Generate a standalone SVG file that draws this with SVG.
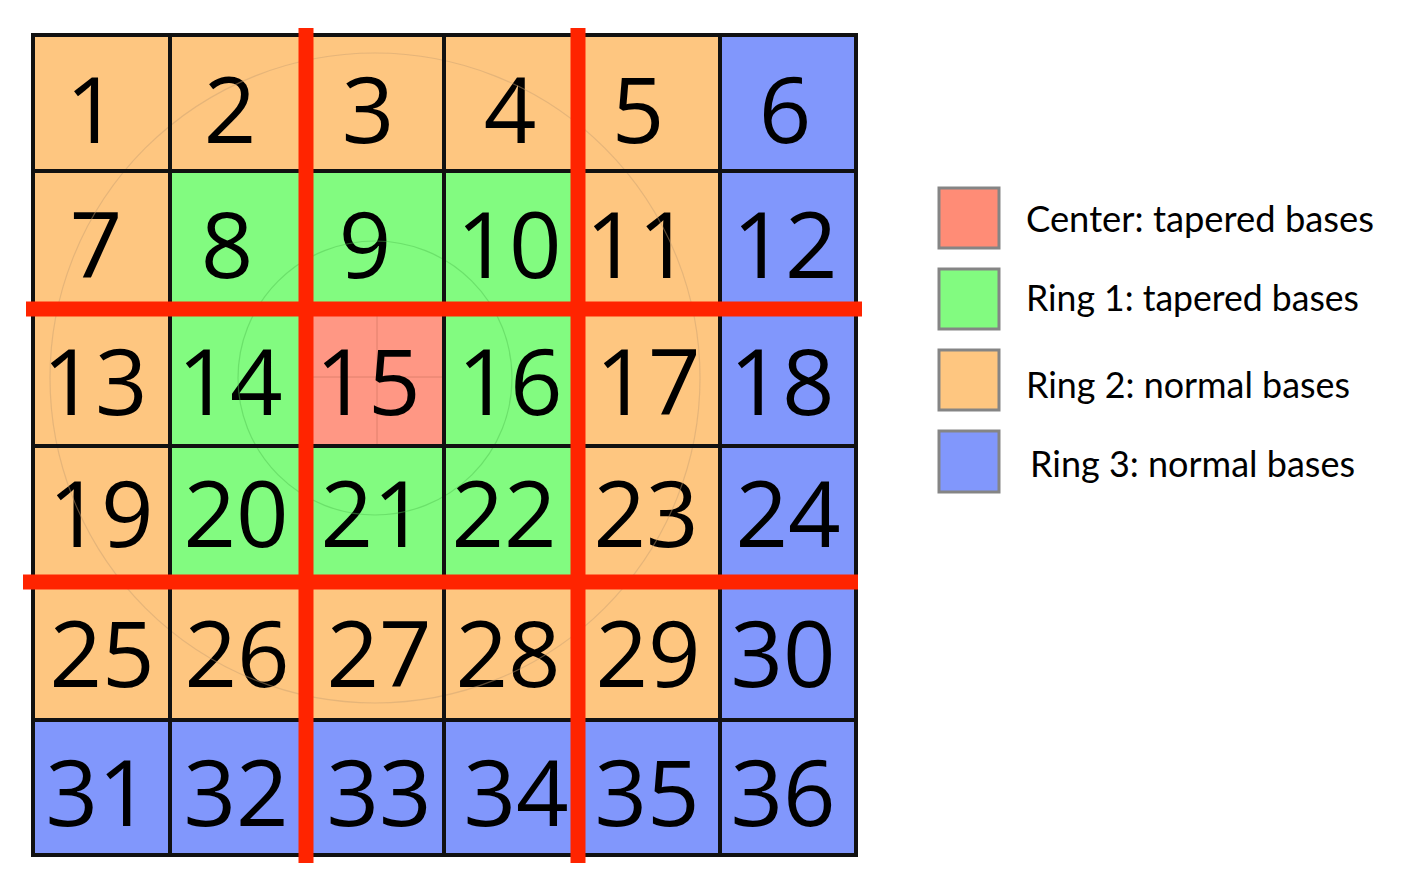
<svg xmlns="http://www.w3.org/2000/svg" width="1428" height="888" viewBox="0 0 1428 888">
<style>
.c rect{stroke:#8a8a8a;stroke-width:2}
.o{fill:#FEC680}
.g{fill:#82FB80}
.b{fill:#8197FC}
.r{fill:#FF9784}
.n{font-family:"Open Sans","Noto Sans",sans-serif;font-size:92px;fill:#000;text-anchor:middle}
.grid line{stroke:#111;stroke-width:4}
.red line{stroke:#FF2400;stroke-width:15}
.sw{stroke:#858585;stroke-width:3}
.lt{font-family:Lato,"Open Sans",sans-serif;font-size:36px;fill:#000}
</style>
<rect width="1428" height="888" fill="#fff"/>
<g id="cells" class="c">
<g id="cell1"><rect class="o" x="33" y="35" width="137" height="136"/><text class="n" x="92" y="143">1</text></g>
<g id="cell2"><rect class="o" x="170" y="35" width="136" height="136"/><text class="n" x="230" y="143">2</text></g>
<g id="cell3"><rect class="o" x="306" y="35" width="138" height="136"/><text class="n" x="368" y="143">3</text></g>
<g id="cell4"><rect class="o" x="444" y="35" width="134" height="136"/><text class="n" x="510" y="143">4</text></g>
<g id="cell5"><rect class="o" x="578" y="35" width="142" height="136"/><text class="n" x="638" y="143">5</text></g>
<g id="cell6"><rect class="b" x="720" y="35" width="136" height="136"/><text class="n" x="785" y="143">6</text></g>
<g id="cell7"><rect class="o" x="33" y="171" width="137" height="138"/><text class="n" x="96" y="278">7</text></g>
<g id="cell8"><rect class="g" x="170" y="171" width="136" height="138"/><text class="n" x="227" y="278">8</text></g>
<g id="cell9"><rect class="g" x="306" y="171" width="138" height="138"/><text class="n" x="365" y="278">9</text></g>
<g id="cell10"><rect class="g" x="444" y="171" width="134" height="138"/><text class="n" x="509" y="278">10</text></g>
<g id="cell11"><rect class="o" x="578" y="171" width="142" height="138"/><text class="n" x="638" y="278">11</text></g>
<g id="cell12"><rect class="b" x="720" y="171" width="136" height="138"/><text class="n" x="785" y="278">12</text></g>
<g id="cell13"><rect class="o" x="33" y="309" width="137" height="137"/><text class="n" x="95" y="415">13</text></g>
<g id="cell14"><rect class="g" x="170" y="309" width="136" height="137"/><text class="n" x="230" y="415">14</text></g>
<g id="cell15"><rect class="r" x="306" y="309" width="138" height="137"/><line x1="306" y1="377" x2="444" y2="377" stroke="#E0806C" stroke-width="1"/><line x1="377" y1="309" x2="377" y2="446" stroke="#E0806C" stroke-width="1"/><text class="n" x="368" y="415">15</text></g>
<g id="cell16"><rect class="g" x="444" y="309" width="134" height="137"/><text class="n" x="510" y="415">16</text></g>
<g id="cell17"><rect class="o" x="578" y="309" width="142" height="137"/><text class="n" x="648" y="415">17</text></g>
<g id="cell18"><rect class="b" x="720" y="309" width="136" height="137"/><text class="n" x="782" y="415">18</text></g>
<g id="cell19"><rect class="o" x="33" y="446" width="137" height="136"/><text class="n" x="101" y="547">19</text></g>
<g id="cell20"><rect class="g" x="170" y="446" width="136" height="136"/><text class="n" x="236" y="547">20</text></g>
<g id="cell21"><rect class="g" x="306" y="446" width="138" height="136"/><text class="n" x="373" y="547">21</text></g>
<g id="cell22"><rect class="g" x="444" y="446" width="134" height="136"/><text class="n" x="504" y="547">22</text></g>
<g id="cell23"><rect class="o" x="578" y="446" width="142" height="136"/><text class="n" x="646" y="547">23</text></g>
<g id="cell24"><rect class="b" x="720" y="446" width="136" height="136"/><text class="n" x="788" y="547">24</text></g>
<g id="cell25"><rect class="o" x="33" y="582" width="137" height="138"/><text class="n" x="102" y="687">25</text></g>
<g id="cell26"><rect class="o" x="170" y="582" width="136" height="138"/><text class="n" x="237" y="687">26</text></g>
<g id="cell27"><rect class="o" x="306" y="582" width="138" height="138"/><text class="n" x="379" y="687">27</text></g>
<g id="cell28"><rect class="o" x="444" y="582" width="134" height="138"/><text class="n" x="508" y="687">28</text></g>
<g id="cell29"><rect class="o" x="578" y="582" width="142" height="138"/><text class="n" x="648" y="687">29</text></g>
<g id="cell30"><rect class="b" x="720" y="582" width="136" height="138"/><text class="n" x="783" y="687">30</text></g>
<g id="cell31"><rect class="b" x="33" y="720" width="137" height="135"/><text class="n" x="98" y="826">31</text></g>
<g id="cell32"><rect class="b" x="170" y="720" width="136" height="135"/><text class="n" x="236" y="826">32</text></g>
<g id="cell33"><rect class="b" x="306" y="720" width="138" height="135"/><text class="n" x="379" y="826">33</text></g>
<g id="cell34"><rect class="b" x="444" y="720" width="134" height="135"/><text class="n" x="516" y="826">34</text></g>
<g id="cell35"><rect class="b" x="578" y="720" width="142" height="135"/><text class="n" x="647" y="826">35</text></g>
<g id="cell36"><rect class="b" x="720" y="720" width="136" height="135"/><text class="n" x="783" y="826">36</text></g>
</g>
<g id="rings" fill="none" stroke-width="1.2">
<circle cx="375" cy="378" r="325" stroke="#C8A070" opacity="0.45"/>
<circle cx="375" cy="378" r="137" stroke="#50C050" opacity="0.45"/>
</g>
<g id="grid" class="grid">
<line x1="170" y1="35" x2="170" y2="855"/>
<line x1="306" y1="35" x2="306" y2="855"/>
<line x1="444" y1="35" x2="444" y2="855"/>
<line x1="578" y1="35" x2="578" y2="855"/>
<line x1="720" y1="35" x2="720" y2="855"/>
<line x1="33" y1="171" x2="856" y2="171"/>
<line x1="33" y1="446" x2="856" y2="446"/>
<line x1="33" y1="720" x2="856" y2="720"/>
<rect x="33" y="35" width="823" height="820" fill="none" stroke="#111" stroke-width="4"/>
</g>
<g id="connectors" class="red">
<line x1="306" y1="28" x2="306" y2="863"/>
<line x1="578" y1="28" x2="578" y2="863"/>
<line x1="26" y1="309" x2="862" y2="309"/>
<line x1="23" y1="582" x2="858" y2="582"/>
</g>
<g id="legend">
<g id="legend-center"><rect class="sw" x="939" y="188" width="60" height="60" fill="#FF8C76"/><text class="lt" x="1026" y="232" textLength="348" lengthAdjust="spacingAndGlyphs">Center: tapered bases</text></g>
<g id="legend-ring1"><rect class="sw" x="939" y="269" width="60" height="60" fill="#82FB80"/><text class="lt" x="1026" y="311" textLength="333" lengthAdjust="spacingAndGlyphs">Ring 1: tapered bases</text></g>
<g id="legend-ring2"><rect class="sw" x="939" y="350" width="60" height="60" fill="#FEC680"/><text class="lt" x="1026" y="398" textLength="324" lengthAdjust="spacingAndGlyphs">Ring 2: normal bases</text></g>
<g id="legend-ring3"><rect class="sw" x="939" y="431" width="60" height="61" fill="#8197FC"/><text class="lt" x="1030" y="477" textLength="325" lengthAdjust="spacingAndGlyphs">Ring 3: normal bases</text></g>
</g>
</svg>
